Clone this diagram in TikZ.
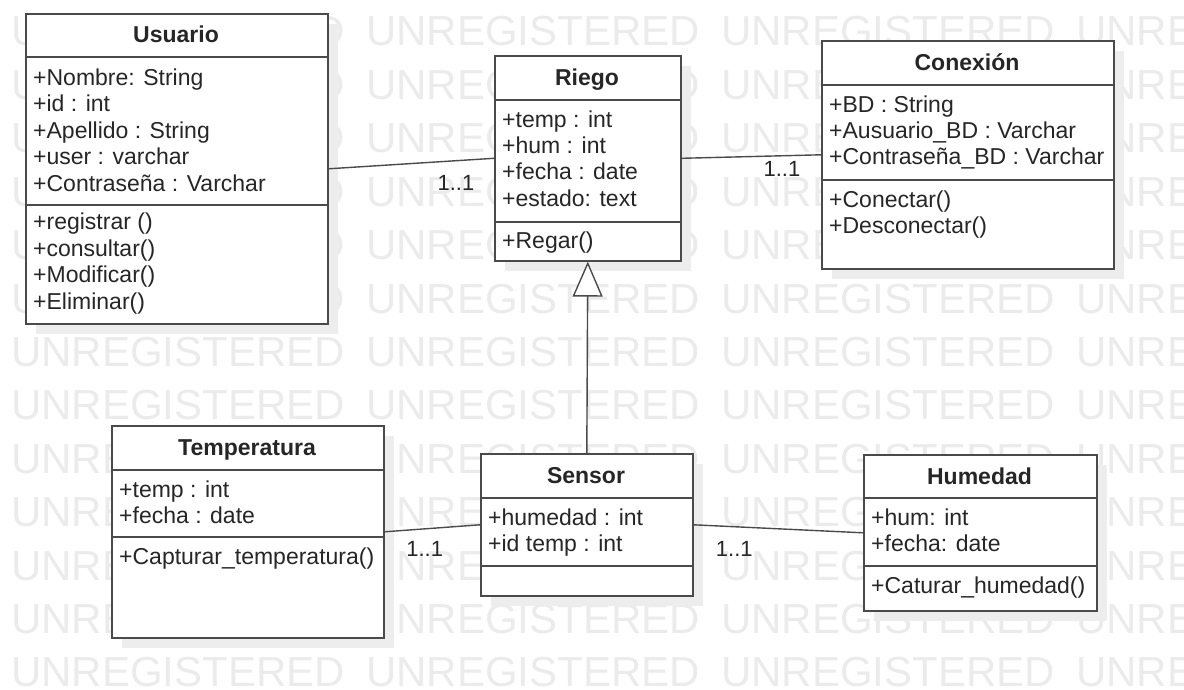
\documentclass[tikz,border=0pt]{standalone}
\usepackage{fontspec}
\setmainfont{Liberation Sans}
\usepackage{xcolor}
\usetikzlibrary{arrows.meta,shadows}
\definecolor{cInk}{HTML}{262626}
\definecolor{cLine}{HTML}{4A4A4A}
\definecolor{cWater}{HTML}{EBEBEB}
\definecolor{cShadow}{HTML}{EDEDED}
\tikzset{
  cls/.style={draw=cLine, line width=1.6pt, fill=white, anchor=north west, inner sep=0pt,
              drop shadow={shadow xshift=10pt, shadow yshift=-10pt, fill=cShadow, opacity=1}},
  sepl/.style={cLine, line width=1.6pt},
  ctitle/.style={anchor=base, inner sep=0pt, text=cInk, font=\fontsize{23}{26.5}\selectfont\bfseries},
  % base of a block = baseline of its last line
  attr/.style={anchor=base west, align=left, inner sep=0pt, text=cInk,
               font=\fontsize{23}{26.5}\selectfont},
  assoc/.style={cLine, line width=1.4pt},
  mult/.style={inner sep=0pt, text=cInk, font=\fontsize{22}{26}\selectfont},
  wmark/.style={anchor=base west, inner sep=0pt, text=cWater, font=\fontsize{42}{42}\selectfont}
}

\begin{document}
\begin{tikzpicture}[x=1pt, y=-1pt]
\useasboundingbox (0,0) rectangle (1184,690);
% watermark
\begin{scope}
\clip (0,0) rectangle (1184,690);
\foreach \r in {0,...,12}
  \foreach \c in {0,...,3}
    \node[wmark] (wm-\r-\c) at ({11+355*\c},{46+53.4*\r}) {UNREGISTERED};
\end{scope}
% Usuario
\node[cls, minimum width=302pt, minimum height=310pt] (usuario) at (25,13) {};
\draw[sepl] (usuario.west |- 0,57) -- (usuario.east |- 0,57);
\draw[sepl] (usuario.west |- 0,205) -- (usuario.east |- 0,205);
\node[ctitle] (usuario-t) at (176,43) {Usuario};
\node[attr] (usuario-a) at (33,191) {+Nombre: String\\+id : int\\+Apellido : String\\+user : varchar\\+Contraseña : Varchar};
\node[attr] (usuario-o) at (33,309) {+registrar ()\\+consultar()\\+Modificar()\\+Eliminar()};
% Riego
\node[cls, minimum width=186pt, minimum height=205pt] (riego) at (494,55) {};
\draw[sepl] (riego.west |- 0,100) -- (riego.east |- 0,100);
\draw[sepl] (riego.west |- 0,222) -- (riego.east |- 0,222);
\node[ctitle] (riego-t) at (587,85.5) {Riego};
\node[attr] (riego-a) at (502,206.5) {+temp : int\\+hum : int\\+fecha : date\\+estado: text};
\node[attr] (riego-o) at (502,248) {+Regar()};
% Conexion
\node[cls, minimum width=292pt, minimum height=228pt] (conexion) at (821,40) {};
\draw[sepl] (conexion.west |- 0,85) -- (conexion.east |- 0,85);
\draw[sepl] (conexion.west |- 0,180) -- (conexion.east |- 0,180);
\node[ctitle] (conexion-t) at (967,70.5) {Conexión};
\node[attr] (conexion-a) at (829,165) {+BD : String\\+Ausuario\_BD : Varchar\\+Contraseña\_BD : Varchar};
\node[attr] (conexion-o) at (829,233.5) {+Conectar()\\+Desconectar()};
% Temperatura
\node[cls, minimum width=272pt, minimum height=212pt] (temperatura) at (111,425) {};
\draw[sepl] (temperatura.west |- 0,470) -- (temperatura.east |- 0,470);
\draw[sepl] (temperatura.west |- 0,537) -- (temperatura.east |- 0,537);
\node[ctitle] (temperatura-t) at (247,455.5) {Temperatura};
\node[attr] (temperatura-a) at (119,523.5) {+temp : int\\+fecha : date};
\node[attr] (temperatura-o) at (119,564) {+Capturar\_temperatura()};
% Sensor
\node[cls, minimum width=212pt, minimum height=142pt] (sensor) at (480,453) {};
\draw[sepl] (sensor.west |- 0,498) -- (sensor.east |- 0,498);
\draw[sepl] (sensor.west |- 0,566) -- (sensor.east |- 0,566);
\node[ctitle] (sensor-t) at (586,483.5) {Sensor};
\node[attr] (sensor-a) at (488,551.5) {+humedad : int\\+id temp : int};
% Humedad
\node[cls, minimum width=233pt, minimum height=156pt] (humedad) at (863,454) {};
\draw[sepl] (humedad.west |- 0,498) -- (humedad.east |- 0,498);
\draw[sepl] (humedad.west |- 0,566) -- (humedad.east |- 0,566);
\node[ctitle] (humedad-t) at (979.5,484) {Humedad};
\node[attr] (humedad-a) at (871,551.5) {+hum: int\\+fecha: date};
\node[attr] (humedad-o) at (871,593) {+Caturar\_humedad()};
% relations
\draw[assoc] (usuario.east) -- node[mult, pos=0.77, below=14pt] (m-ur) {1..1} (riego.west);
\draw[assoc] (riego.east) -- node[mult, pos=0.72, below=5pt] (m-rc) {1..1} (conexion.west);
\draw[assoc] (temperatura.east) -- node[mult, pos=0.42, below=12pt] (m-ts) {1..1} (sensor.west);
\draw[assoc] (sensor.east) -- node[mult, pos=0.24, below=14pt] (m-sh) {1..1} (humedad.west);
\draw[assoc, -{Triangle[length=35pt, width=30pt, fill=white]}] (sensor.north) -- (riego.south);
\end{tikzpicture}
\end{document}
